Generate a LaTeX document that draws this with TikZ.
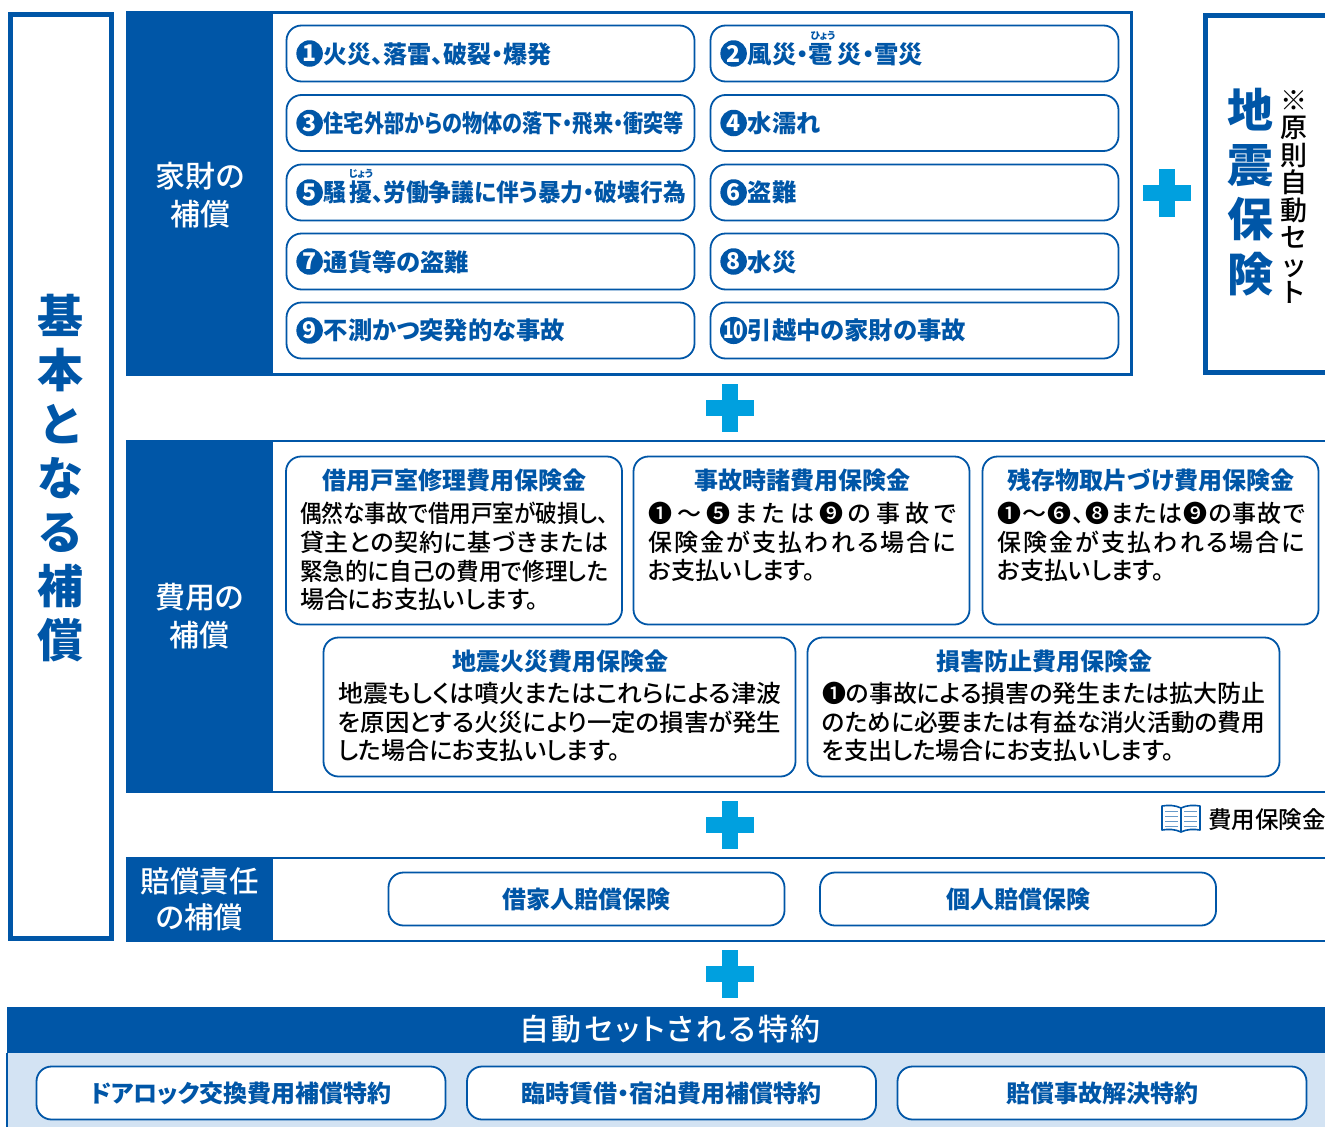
\documentclass[tikz,border=0pt]{standalone}
\usepackage{fontspec}
\usepackage{graphicx}
\setmainfont[RawFeature={+palt}]{Noto Sans CJK JP}
\newfontfamily\heavyfont[RawFeature={+palt}]{Noto Sans CJK JP Black}
\newfontfamily\midfont[RawFeature={+palt}]{Noto Sans CJK JP Medium}
\usepackage{xcolor}
\definecolor{navy-700}{RGB}{0,86,167}
\definecolor{sky-500}{RGB}{0,160,223}
\definecolor{pale-200}{RGB}{211,227,243}
\usepackage{tikz}
\usetikzlibrary{positioning}

% spread the characters of one text line over a given width
\newlength{\linew}
\def\jrest#1{\ifx#1\relax\else\hfil#1\expandafter\jrest\fi}
\def\jline#1{\hbox to \linew{\jfirst#1\relax}}
\def\jfirst#1{#1\jrest}
% squeeze one text line into the same width
\def\fitline#1{\resizebox{\linew}{\height}{#1}}

\begin{document}
\begin{tikzpicture}[
    x=1pt, y=-1pt,
    item box/.style={
        draw=navy-700,
        line width=1.8pt,
        fill=white,
        rounded corners=15pt,
        minimum width=408pt,
        minimum height=56pt,
        inner sep=0pt
    },
    wide box/.style={item box, minimum width=396pt, minimum height=53pt},
    rider box/.style={item box, minimum width=409pt, minimum height=53pt},
    cost box/.style={item box, minimum width=336pt, minimum height=168pt},
    low box/.style={item box, minimum width=472pt, minimum height=139pt},
    item num/.style={
        circle,
        fill=navy-700,
        text=white,
        font=\fontsize{23}{23}\bfseries\selectfont,
        minimum size=26.5pt,
        inner sep=0pt
    },
    item title/.style={
        font=\fontsize{24.3}{24.3}\bfseries\selectfont,
        text=navy-700,
        anchor=west,
        inner sep=0pt
    },
    cost title/.style={
        font=\fontsize{24}{24}\bfseries\selectfont,
        text=navy-700,
        inner sep=0pt
    },
    cost desc/.style={
        font=\fontsize{24}{28.7}\midfont\selectfont,
        anchor=north west,
        align=left,
        inner sep=0pt
    },
    side head/.style={
        fill=navy-700,
        text=white,
        minimum width=147pt,
        inner sep=0pt,
        align=center,
        font=\fontsize{30}{38}\midfont\selectfont
    },
    ruby/.style={
        font=\fontsize{10}{10}\bfseries\selectfont,
        text=navy-700,
        inner sep=0pt
    },
    frame/.style={draw=navy-700, line width=2.6pt, inner sep=0pt},
    plus bar/.style={fill=sky-500, inner sep=0pt},
    book/.style={draw=navy-700, line width=1.6pt, fill=white, line join=round},
    book line/.style={draw=navy-700!60, line width=1pt}
]

\useasboundingbox (0,0) rectangle (1325,1127);

% Base frame on the left
\node[frame, line width=5pt, minimum width=101pt, minimum height=924pt] (base) at (61,476.5) {};
\node[inner sep=0pt, align=center, text=navy-700, font=\fontsize{46}{54}\heavyfont\selectfont] (basetxt) at (60,478) {基\\本\\と\\な\\る\\補\\償};

% Household goods
\node[frame, minimum width=1004pt, minimum height=362pt] (goods) at (629.5,193.5) {};
\node[side head, minimum height=365pt] (goodshead) at (199.5,193.5) {};
\node[inner sep=0pt, align=center, text=white, font=\fontsize{30}{38}\midfont\selectfont] (goodstxt) at (200,195) {家財の\\補償};

\node[item box] (i1) at (490.5,53.5) {};
\node[item num] (n1) at ([xshift=24pt]i1.west) {1};
\node[item title] (t1) at ([xshift=38pt, yshift=-1pt]i1.west) {\resizebox{228pt}{\height}{火災、落雷、破裂・爆発}};

\node[item box] (i2) at (914.5,53.5) {};
\node[item num] (n2) at ([xshift=24pt]i2.west) {2};
\node[item title] (t2) at ([xshift=38pt, yshift=-1pt]i2.west) {風災・雹\hspace{5pt}災・雪災};
\node[ruby] (r2) at (823,36) {ひょう};

\node[item box] (i3) at (490.5,123) {};
\node[item num] (n3) at ([xshift=24pt]i3.west) {3};
\node[item title] (t3) at ([xshift=38pt]i3.west) {\resizebox{360pt}{\height}{住宅外部からの物体の落下・飛来・衝突等}};

\node[item box] (i4) at (914.5,123) {};
\node[item num] (n4) at ([xshift=24pt]i4.west) {4};
\node[item title] (t4) at ([xshift=38pt]i4.west) {水濡れ};

\node[item box] (i5) at (490.5,192.5) {};
\node[item num] (n5) at ([xshift=24pt]i5.west) {5};
\node[item title] (t5) at ([xshift=38pt]i5.west) {\resizebox{362pt}{\height}{騒\hspace{3pt}擾、労働争議に伴う暴力・破壊行為}};
\node[ruby] (r5) at (361,174) {じょう};

\node[item box] (i6) at (914.5,192.5) {};
\node[item num] (n6) at ([xshift=24pt]i6.west) {6};
\node[item title] (t6) at ([xshift=38pt]i6.west) {盗難};

\node[item box] (i7) at (490.5,261.5) {};
\node[item num] (n7) at ([xshift=24pt]i7.west) {7};
\node[item title] (t7) at ([xshift=38pt, yshift=-1pt]i7.west) {通貨等の盗難};

\node[item box] (i8) at (914.5,261.5) {};
\node[item num] (n8) at ([xshift=24pt]i8.west) {8};
\node[item title] (t8) at ([xshift=38pt, yshift=-1pt]i8.west) {水災};

\node[item box] (i9) at (490.5,330.5) {};
\node[item num] (n9) at ([xshift=24pt]i9.west) {9};
\node[item title] (t9) at ([xshift=38pt]i9.west) {不測かつ突発的な事故};

\node[item box] (i10) at (914.5,330.5) {};
\node[item num] (n10) at ([xshift=24pt]i10.west) {\resizebox{21pt}{\height}{10}};
\node[item title] (t10) at ([xshift=38pt]i10.west) {引越中の家財の事故};

% Earthquake insurance
\coordinate (quakea) at (1325,15.5);
\coordinate (quakeb) at (1205,15.5);
\coordinate (quakec) at (1205,372);
\coordinate (quaked) at (1325,372);
\draw[navy-700, line width=5pt] (quakea) -- (quakeb) -- (quakec) -- (quaked);
\node[inner sep=0pt, align=center, text=navy-700, font=\fontsize{46}{54.5}\heavyfont\selectfont] (quaketxt) at (1250,192) {地\\震\\保\\険};
\node[inner sep=0pt, align=center, font=\fontsize{27}{27.5}\midfont\selectfont] (quakenote) at (1294,197) {※\\原\\則\\自\\動\\セ\\ッ\\ト};

% Plus signs
\node[plus bar, minimum width=48pt, minimum height=16pt] (p1h) at (1167,193) {};
\node[plus bar, minimum width=16pt, minimum height=48pt] (p1v) at (1167,193) {};
\node[plus bar, minimum width=48pt, minimum height=16pt] (p2h) at (730,408) {};
\node[plus bar, minimum width=16pt, minimum height=48pt] (p2v) at (730,408) {};
\node[plus bar, minimum width=48pt, minimum height=16pt] (p3h) at (730,825) {};
\node[plus bar, minimum width=16pt, minimum height=48pt] (p3v) at (730,825) {};
\node[plus bar, minimum width=48pt, minimum height=16pt] (p4h) at (730,974) {};
\node[plus bar, minimum width=16pt, minimum height=48pt] (p4v) at (730,974) {};

% Expenses
\node[side head, minimum height=353pt] (costhead) at (199.5,616.5) {費用の\\補償};
\draw[navy-700, line width=2.6pt] (costhead.north west) ++(0,1.3) -- ++(1199,0);
\draw[navy-700, line width=2.6pt] (costhead.south west) ++(0,-1.3) -- ++(1199,0);

\node[cost box] (c1) at (454,540.5) {};
\node[cost title] (c1t) at (454,480) {借用戸室修理費用保険金};
\setlength{\linew}{308pt}
\node[cost desc] (c1d) at (300,502) {\fitline{偶然な事故で借用戸室が破損し、}\\\jline{貸主との契約に基づきまたは}\\\fitline{緊急的に自己の費用で修理した}\\場合にお支払いします。};

\node[cost box] (c2) at (801.5,540.5) {};
\node[cost title] (c2t) at (802,480) {事故時諸費用保険金};
\node[cost desc] (c2d) at (648,502) {\jline{❶～❺または❾の事故で}\\\jline{保険金が支払われる場合に}\\お支払いします。};

\node[cost box] (c3) at (1150.5,540.5) {};
\node[cost title] (c3t) at (1151,480) {残存物取片づけ費用保険金};
\node[cost desc] (c3d) at (997,502) {\jline{❶～❻、❽または❾の事故で}\\\jline{保険金が支払われる場合に}\\お支払いします。};

\setlength{\linew}{443pt}
\node[low box] (c4) at (559.5,707) {};
\node[cost title] (c4t) at (560,661) {地震火災費用保険金};
\node[cost desc] (c4d) at (338,682) {\fitline{地震もしくは噴火またはこれらによる津波}\\\fitline{を原因とする火災により一定の損害が発生}\\した場合にお支払いします。};

\node[low box] (c5) at (1043.5,707) {};
\node[cost title] (c5t) at (1044,661) {損害防止費用保険金};
\node[cost desc] (c5d) at (822,682) {\fitline{❶の事故による損害の発生または拡大防止}\\\fitline{のために必要または有益な消火活動の費用}\\を支出した場合にお支払いします。};

% Expense note with book
\coordinate (booktop) at (1181,808);
\coordinate (bookfoot) at (1181,832);
\draw[book] (bookfoot) .. controls (1175,829) and (1168,829) .. (1162,830) -- (1162,806) .. controls (1168,805) and (1175,805) .. (booktop) .. controls (1187,805) and (1194,805) .. (1200,806) -- (1200,830) .. controls (1194,829) and (1187,829) .. (bookfoot) -- cycle;
\draw[book] (booktop) -- (bookfoot);
\draw[book line] (1165,811) -- (1178,811) (1165,816) -- (1178,816) (1165,821) -- (1178,821) (1165,826) -- (1178,826);
\draw[book line] (1184,811) -- (1197,811) (1184,816) -- (1197,816) (1184,821) -- (1197,821) (1184,826) -- (1197,826);
\node[anchor=west, inner sep=0pt, font=\fontsize{23.5}{24}\midfont\selectfont] (notetxt) at (1208,820) {費用保険金};

% Liability
\node[side head, minimum height=85pt, font=\fontsize{29.5}{36}\midfont\selectfont] (liabhead) at (199.5,899.5) {賠償責任\\の補償};
\draw[navy-700, line width=2.6pt] (liabhead.north west) ++(0,1.3) -- ++(1199,0);
\draw[navy-700, line width=2.6pt] (liabhead.south west) ++(0,-1.3) -- ++(1199,0);
\node[wide box, font=\fontsize{24}{24}\bfseries\selectfont, text=navy-700] (l1) at (586.5,899) {借家人賠償保険};
\node[wide box, font=\fontsize{24}{24}\bfseries\selectfont, text=navy-700] (l2) at (1018,899) {個人賠償保険};

% Automatic riders
\setlength{\linew}{301pt}
\node[fill=pale-200, minimum width=1320pt, minimum height=120pt, inner sep=0pt] (ridersbg) at (667,1067) {};
\node[fill=navy-700, minimum width=1320pt, minimum height=46pt, inner sep=0pt] (ridershead) at (667,1030) {};
\node[text=white, inner sep=0pt, font=\fontsize{30}{30}\midfont\selectfont] (riderstxt) at (670,1029) {\jline{自動セットされる特約}};
\draw[navy-700, line width=2pt] (ridershead.south west) -- (ridersbg.south west);
\node[rider box, font=\fontsize{24}{24}\bfseries\selectfont, text=navy-700] (a1) at (241,1093) {ドアロック交換費用補償特約};
\node[rider box, font=\fontsize{24}{24}\bfseries\selectfont, text=navy-700] (a2) at (671.5,1093) {臨時賃借・宿泊費用補償特約};
\node[rider box, font=\fontsize{24}{24}\bfseries\selectfont, text=navy-700] (a3) at (1102,1093) {賠償事故解決特約};

\end{tikzpicture}
\end{document}
